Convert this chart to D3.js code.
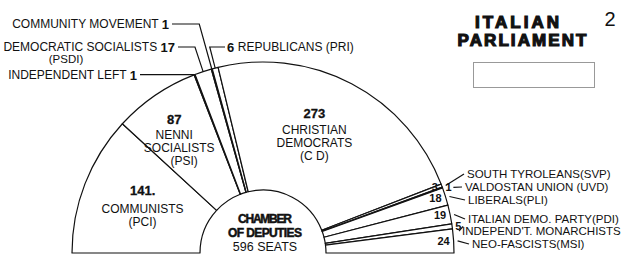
<!DOCTYPE html>
<html><head><meta charset="utf-8">
<script src="https://cdn.jsdelivr.net/npm/d3@7"></script>
<style>
body{margin:0;background:#fff}
svg{display:block}
text{font-family:"Liberation Sans",Arial,sans-serif;fill:#111;dominant-baseline:central}
</style>
</head><body><svg id="c" width="628" height="255"></svg>
<script>
// ---- data ----
const parties = ["COMMUNISTS (PCI)","NENNI SOCIALISTS (PSI)","INDEPENDENT LEFT","DEMOCRATIC SOCIALISTS (PSDI)","COMMUNITY MOVEMENT","REPUBLICANS (PRI)","CHRISTIAN DEMOCRATS (CD)","SOUTH TYROLEANS (SVP)","VALDOSTAN UNION (UVD)","LIBERALS (PLI)","ITALIAN DEMO. PARTY (PDI)","INDEPEND'T. MONARCHISTS","NEO-FASCISTS (MSI)"];
const seats = [141,87,1,17,1,6,273,3,1,18,19,5,24];
const totalSeats = 596;
const bigLabelIdx = [0,1,6];
const bigNumbers = ["141.","87","273"];
const bigNames = [["COMMUNISTS","(PCI)"],["NENNI","SOCIALISTS","(PSI)"],["CHRISTIAN","DEMOCRATS","(C D)"]];
const topIdx = [2,3,4,5];
const topNames = ["INDEPENDENT LEFT","DEMOCRATIC SOCIALISTS","COMMUNITY MOVEMENT","REPUBLICANS (PRI)"];
const rightIdx = [7,8,9,10,11,12];
const rightNames = ["SOUTH TYROLEANS(SVP)","VALDOSTAN UNION (UVD)","LIBERALS(PLI)","ITALIAN DEMO. PARTY(PDI)","INDEPEND'T. MONARCHISTS","NEO-FASCISTS(MSI)"];
const titleLines = ["ITALIAN","PARLIAMENT"];
const centerLines = ["CHAMBER","OF DEPUTIES"];
const pageNumber = "2";

// ---- layout ----
const svg = d3.select("#c");
const cx = 263, cy = 253, r0 = 63, r1 = 191;
const g = svg.append("g").attr("transform",`translate(${cx},${cy})`);
const pie = d3.pie().sort(null).startAngle(-Math.PI/2).endAngle(Math.PI/2);
const arcs = pie(seats);
const arc = d3.arc().innerRadius(r0).outerRadius(r1);
g.selectAll("path.s").data(arcs).join("path").attr("class","s")
  .attr("d",arc).attr("fill","#fff").attr("stroke","#111").attr("stroke-width",1.2).attr("stroke-linejoin","round");

const pt = (a,r)=>[cx + r*Math.sin(a), cy - r*Math.cos(a)];
const mid = d=>(d.startAngle+d.endAngle)/2;
const line = d3.line();
const lineStyle = s=>s.attr("fill","none").attr("stroke","#111").attr("stroke-width",1.2);

// big labels
const bigNudge = [[-3,-1],[-8,3],[-8,-5]];
const bigR = [126,140,128];
const numGap = [19,15,17];
bigLabelIdx.forEach((idx,k)=>{
  const [x,y] = pt(mid(arcs[idx]), bigR[k]);
  const X = x+bigNudge[k][0], Y = y+bigNudge[k][1];
  const n = bigNames[k].length;
  const top = Y - (numGap[k] + 13*(n-1))/2;
  svg.append("text").attr("x",X-(k===1?2:0)).attr("y",top).attr("text-anchor","middle")
    .attr("font-weight","bold").attr("font-size",13).attr("stroke","#111").attr("stroke-width",0.3).text(bigNumbers[k]);
  bigNames[k].forEach((t,i)=>svg.append("text").attr("x",X+(k===1?[-2,3,8][i]:0)).attr("y",top+numGap[k]+13*i)
    .attr("text-anchor","middle").attr("font-size",12).text(t));
});

// top (narrow) labels with leader lines
const topY = [76, 47, 24, 47];
const topEndX = [140, 178, 172, 225];
topIdx.forEach((idx,k)=>{
  const a = mid(arcs[idx]);
  const [ox,oy] = pt(a,r1);
  const y = topY[k];
  let pts;
  if (Math.abs(oy - y) < 4) { pts = [[ox,oy],[topEndX[k],oy]]; }
  else {
    const r = (cy - y)/Math.cos(a);
    const [bx,by] = pt(a,r);
    pts = [[ox,oy],[bx,by],[topEndX[k],by]];
  }
  svg.append("path").attr("d",line(pts)).call(lineStyle);
  const ly = pts[pts.length-1][1];
  if (k===3) {
    const t = svg.append("text").attr("x",topEndX[k]+2).attr("y",ly).attr("font-size",12);
    t.append("tspan").attr("font-weight","bold").attr("font-size",13).text(seats[idx]+" ");
    t.append("tspan").text(topNames[k]);
  } else {
    const t = svg.append("text").attr("x",topEndX[k]-3).attr("y",ly).attr("text-anchor","end").attr("font-size",12);
    t.append("tspan").text(topNames[k]+" ");
    t.append("tspan").attr("font-weight","bold").attr("font-size",13).text(seats[idx]);
    if (k===1) svg.append("text").attr("x",66).attr("y",ly+12).attr("text-anchor","middle").attr("font-size",11.5).text("(PSDI)");
  }
});

// right labels
const rightY = [174, 187, 200, 219, 231, 244];
const rightX = [467, 465, 468, 468, 462, 472];
const outside = [false,true,false,false,true,false];
rightIdx.forEach((idx,k)=>{
  const a = mid(arcs[idx]);
  const [ox,oy] = pt(a,r1);
  const y = rightY[k];
  if (outside[k]) {
    svg.append("text").attr("x",ox+3).attr("y",oy).attr("font-weight","bold").attr("font-size",11).text(seats[idx]);
    svg.append("path").attr("d",line([[ox+11,oy],[rightX[k]-3,y]])).call(lineStyle);
  } else {
    const [nx,ny] = pt(a,r1-4);
    svg.append("text").attr("x",nx).attr("y",ny).attr("text-anchor","end").attr("font-weight","bold").attr("font-size",11).text(seats[idx]);
    svg.append("path").attr("d",line([[ox+4,oy],[rightX[k]-3,y]])).call(lineStyle);
  }
  svg.append("text").attr("x",rightX[k]).attr("y",y).attr("font-size",11.5).text(rightNames[k]);
});

// center text
svg.append("text").attr("x",265).attr("y",219).attr("text-anchor","middle").attr("font-weight","bold").attr("font-size",12)
  .attr("stroke","#111").attr("stroke-width",0.5).attr("textLength",54).text(centerLines[0]);
svg.append("text").attr("x",265).attr("y",233).attr("text-anchor","middle").attr("font-weight","bold").attr("font-size",12)
  .attr("stroke","#111").attr("stroke-width",0.5).attr("textLength",74).text(centerLines[1]);
svg.append("text").attr("x",265).attr("y",247).attr("text-anchor","middle").attr("font-size",12.5).text(totalSeats+" SEATS");

// title
svg.append("text").attr("x",517).attr("y",22).attr("text-anchor","middle").attr("font-weight","bold").attr("font-size",17)
  .attr("stroke","#111").attr("stroke-width",1.2).attr("textLength",84).text(titleLines[0]);
svg.append("text").attr("x",522).attr("y",40).attr("text-anchor","middle").attr("font-weight","bold").attr("font-size",17)
  .attr("stroke","#111").attr("stroke-width",1.2).attr("textLength",129).text(titleLines[1]);
svg.append("text").attr("x",610).attr("y",19).attr("text-anchor","middle").attr("font-size",20).text(pageNumber);
svg.append("rect").attr("x",473.5).attr("y",62.5).attr("width",121).attr("height",25).attr("fill","none").attr("stroke","#999");
</script></body></html>
